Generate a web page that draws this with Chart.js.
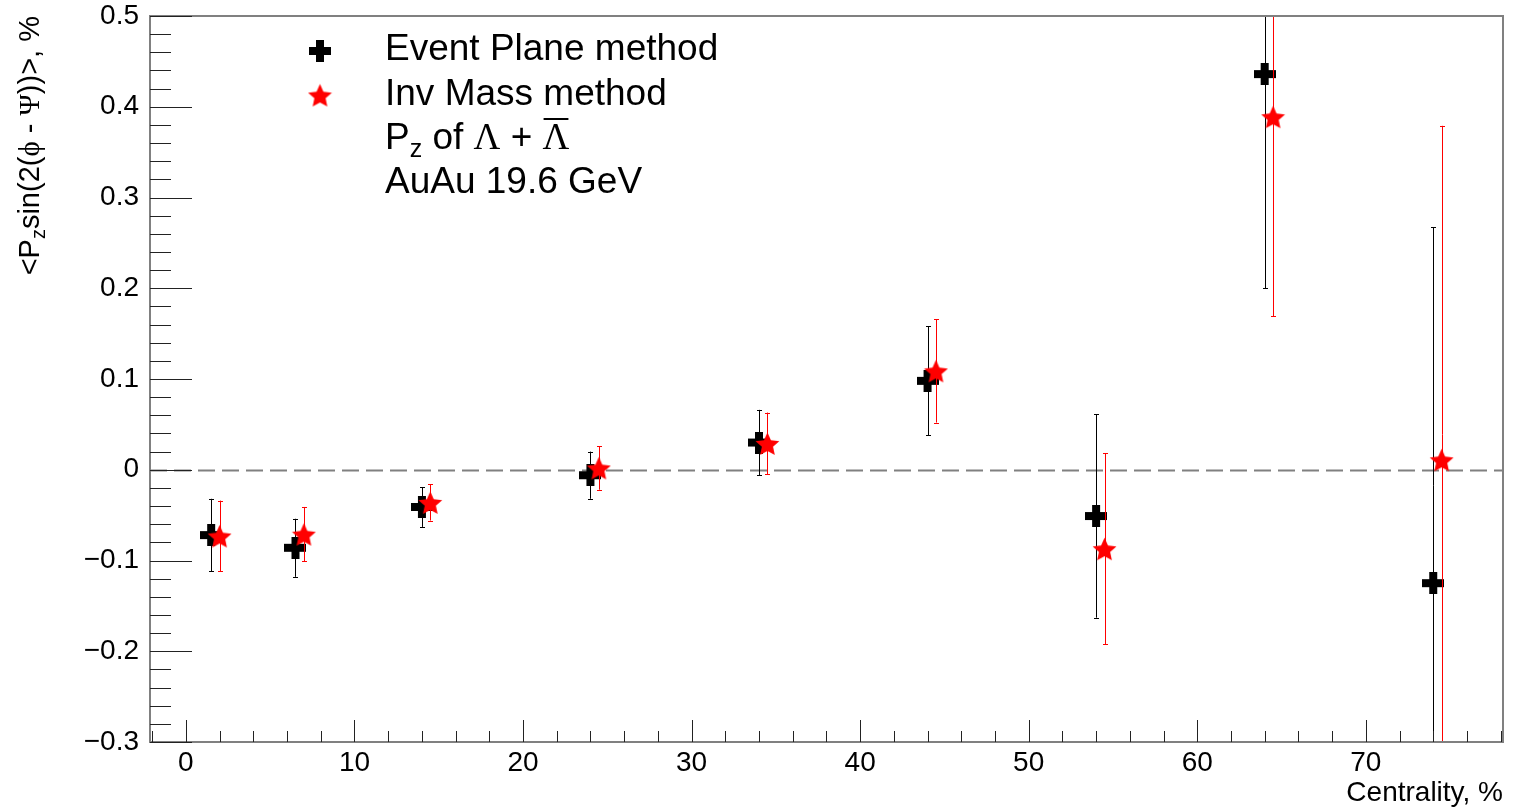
<!DOCTYPE html>
<html>
<head>
<meta charset="utf-8">
<script src="https://cdn.jsdelivr.net/npm/chart.js@4/dist/chart.umd.min.js"></script>
<style>
  html, body { margin: 0; padding: 0; background: #fff; }
  canvas { display: block; }
</style>
</head>
<body>
<canvas id="chart" width="1519" height="808" style="width:1519px;height:808px"></canvas>
<script>
// Event Plane method
const epCentrality = [1.5, 6.5, 14, 24, 34, 44, 54, 64, 74];
const epValues     = [-0.072, -0.086, -0.041, -0.006, 0.030, 0.098, -0.051, 0.436, -0.125];
const epErrors     = [0.040, 0.032, 0.022, 0.026, 0.036, 0.060, 0.112, 0.236, 0.392];

// Inv Mass method
const imCentrality = [2, 7, 14.5, 24.5, 34.5, 44.5, 54.5, 64.5, 74.5];
const imValues     = [-0.073, -0.071, -0.036, 0.002, 0.029, 0.109, -0.087, 0.389, 0.011];
const imErrors     = [0.039, 0.030, 0.020, 0.024, 0.034, 0.057, 0.105, 0.220, 0.368];

const xTicks = [0, 10, 20, 30, 40, 50, 60, 70];
const yTicks = [-0.3, -0.2, -0.1, 0, 0.1, 0.2, 0.3, 0.4, 0.5];

const FONT = '"Liberation Sans", Arial, Helvetica, sans-serif';
const SERIF = '"Liberation Serif", "DejaVu Serif", serif';

// маркеры в стиле ROOT: толстый крест и звезда
function makeCross(size, color) {
    const c = document.createElement('canvas');
    c.width = size; c.height = size;
    const g = c.getContext('2d');
    const a = Math.round(size * 0.35);
    const o = Math.round((size - a) / 2);
    g.fillStyle = color;
    g.fillRect(o, 0, a, size);
    g.fillRect(0, o, size, a);
    return c;
}

function makeStar(size, color) {
    const c = document.createElement('canvas');
    c.width = size; c.height = size;
    const g = c.getContext('2d');
    const cx = size / 2, cy = size / 2 + 1.5;
    const ro = size / 2, ri = ro * 0.47;
    g.fillStyle = color;
    g.beginPath();
    for (let i = 0; i < 10; i++) {
        const r = i % 2 === 0 ? ro : ri;
        const ang = -Math.PI / 2 + i * Math.PI / 5;
        const px = cx + r * Math.cos(ang), py = cy + r * Math.sin(ang);
        if (i === 0) g.moveTo(px, py); else g.lineTo(px, py);
    }
    g.closePath();
    g.fill();
    return c;
}

const crossImg = makeCross(22, '#000');
const starImg = makeStar(25, '#ff0000');

function fmtTick(v) {
    if (Math.abs(v) < 1e-9) return '0';
    const s = Math.abs(v).toFixed(1);
    return v < 0 ? '\u2212' + s : s;
}

// текст с нижними индексами и разными шрифтами
function drawRich(ctx, parts, x, y, align) {
    let total = 0;
    parts.forEach(p => { ctx.font = p.font; p.w = ctx.measureText(p.t).width; total += p.w; });
    let cx = align === 'right' ? x - total : x;
    parts.forEach(p => {
        ctx.font = p.font;
        ctx.textAlign = 'left';
        ctx.textBaseline = 'alphabetic';
        ctx.fillText(p.t, cx, y + (p.dy || 0));
        if (p.over) {
            ctx.fillRect(cx + 1, y - 31, p.w - 2, 2);
        }
        cx += p.w;
    });
}

const rootStyle = {
    id: 'rootStyle',
    beforeDatasetsDraw(chart) {
        const { ctx, chartArea: a, scales: { y } } = chart;
        const y0 = Math.round(y.getPixelForValue(0)) + 0.5;
        ctx.save();
        ctx.strokeStyle = '#808080';
        ctx.lineWidth = 2;
        ctx.setLineDash([17, 7]);
        ctx.beginPath();
        ctx.moveTo(a.left, y0);
        ctx.lineTo(a.right, y0);
        ctx.stroke();
        ctx.restore();
    },
    beforeDatasetDraw(chart, args) {
        const { ctx, chartArea: a, scales: { x, y } } = chart;
        const ds = chart.data.datasets[args.index];
        ctx.save();
        ctx.beginPath();
        ctx.rect(a.left, a.top, a.right - a.left, a.bottom - a.top);
        ctx.clip();
        ctx.strokeStyle = ds.errColor;
        ctx.lineWidth = 1;
        ds.data.forEach((p, i) => {
            const px = Math.round(x.getPixelForValue(p.x)) + 0.5;
            const top = y.getPixelForValue(p.y + ds.errors[i]);
            const bot = y.getPixelForValue(p.y - ds.errors[i]);
            ctx.beginPath();
            ctx.moveTo(px, top);
            ctx.lineTo(px, bot);
            ctx.moveTo(px - 2.5, Math.round(top) + 0.5);
            ctx.lineTo(px + 2.5, Math.round(top) + 0.5);
            ctx.moveTo(px - 2.5, Math.round(bot) + 0.5);
            ctx.lineTo(px + 2.5, Math.round(bot) + 0.5);
            ctx.stroke();
        });
        ctx.restore();
    },
    afterDraw(chart) {
        const { ctx, chartArea: a, scales: { x, y } } = chart;
        ctx.save();

        // рамка
        ctx.strokeStyle = '#808080';
        ctx.lineWidth = 2;
        ctx.strokeRect(a.left, a.top, a.right - a.left, a.bottom - a.top);

        // деления по Y: большие 0.1, малые 0.02
        ctx.strokeStyle = '#222';
        ctx.lineWidth = 1;
        ctx.beginPath();
        for (let k = -15; k <= 25; k++) {
            const v = k * 0.02;
            const py = Math.round(y.getPixelForValue(v)) + 0.5;
            const len = k % 5 === 0 ? 42 : 21;
            ctx.moveTo(a.left, py);
            ctx.lineTo(a.left + len, py);
        }
        // деления по X: большие 10, малые 2
        for (let k = -1; k <= 39; k++) {
            const v = k * 2;
            const px = Math.round(x.getPixelForValue(v)) + 0.5;
            if (px < a.left || px > a.right) continue;
            const len = k % 5 === 0 ? 22 : 11;
            ctx.moveTo(px, a.bottom);
            ctx.lineTo(px, a.bottom - len);
        }
        ctx.stroke();

        // подпись оси X
        ctx.fillStyle = '#000';
        ctx.font = '28px ' + FONT;
        ctx.textAlign = 'right';
        ctx.textBaseline = 'alphabetic';
        ctx.fillText('Centrality, %', a.right, 801);

        // подпись оси Y (повёрнутая)
        ctx.save();
        ctx.translate(39, 16);
        ctx.rotate(-Math.PI / 2);
        drawRich(ctx, [
            { t: '<P', font: '29px ' + FONT },
            { t: 'z', font: '20px ' + FONT, dy: 6 },
            { t: 'sin(2(', font: '29px ' + FONT },
            { t: '\u03D5', font: '29px ' + SERIF },
            { t: ' - ', font: '29px ' + FONT },
            { t: '\u03A8', font: '29px ' + SERIF },
            { t: '))>, %', font: '29px ' + FONT }
        ], 0, 0, 'right');
        ctx.restore();

        // легенда
        ctx.drawImage(crossImg, 320 - 11, 51 - 11);
        ctx.drawImage(starImg, 320 - 12.5, 95 - 12.5);
        const big = '37px ' + FONT;
        ctx.fillStyle = '#000';
        drawRich(ctx, [{ t: 'Event Plane method', font: big }], 385, 60, 'left');
        drawRich(ctx, [{ t: 'Inv Mass method', font: big }], 385, 105, 'left');
        drawRich(ctx, [
            { t: 'P', font: big },
            { t: 'z', font: '25px ' + FONT, dy: 8 },
            { t: ' of ', font: big },
            { t: '\u039B', font: '37px ' + SERIF },
            { t: ' + ', font: big },
            { t: '\u039B', font: '37px ' + SERIF, over: true }
        ], 385, 149, 'left');
        drawRich(ctx, [{ t: 'AuAu 19.6 GeV', font: big }], 385, 193, 'left');

        ctx.restore();
    }
};

new Chart(document.getElementById('chart'), {
    type: 'scatter',
    data: {
        datasets: [
            {
                label: 'Event Plane method',
                data: epCentrality.map((c, i) => ({ x: c, y: epValues[i] })),
                errors: epErrors,
                errColor: '#000',
                pointStyle: crossImg,
                order: 2
            },
            {
                label: 'Inv Mass method',
                data: imCentrality.map((c, i) => ({ x: c, y: imValues[i] })),
                errors: imErrors,
                errColor: '#ff0000',
                pointStyle: starImg,
                order: 1
            }
        ]
    },
    options: {
        responsive: false,
        animation: false,
        devicePixelRatio: 1,
        layout: { padding: { top: 16, right: 16, left: 0, bottom: 0 } },
        plugins: { legend: { display: false }, tooltip: { enabled: false } },
        scales: {
            x: {
                type: 'linear',
                min: -2.13,
                max: 78.14,
                afterFit: s => { s.height = 66; s.paddingLeft = 0; s.paddingRight = 0; },
                afterBuildTicks: s => { s.ticks = xTicks.map(v => ({ value: v })); },
                grid: { display: false, drawTicks: false, tickLength: 0 },
                border: { display: false },
                ticks: {
                    padding: 17,
                    color: '#000',
                    font: { family: FONT, size: 28, lineHeight: 0.3 },
                    maxRotation: 0,
                    callback: v => String(v)
                }
            },
            y: {
                type: 'linear',
                min: -0.3,
                max: 0.5,
                afterFit: s => { s.width = 150; s.paddingTop = 0; s.paddingBottom = 0; },
                afterBuildTicks: s => { s.ticks = yTicks.map(v => ({ value: v })); },
                grid: { display: false, drawTicks: false, tickLength: 0 },
                border: { display: false },
                ticks: {
                    padding: 11,
                    color: '#000',
                    font: { family: FONT, size: 28, lineHeight: 0.3 },
                    callback: v => fmtTick(v)
                }
            }
        }
    },
    plugins: [rootStyle]
});
</script>
</body>
</html>
